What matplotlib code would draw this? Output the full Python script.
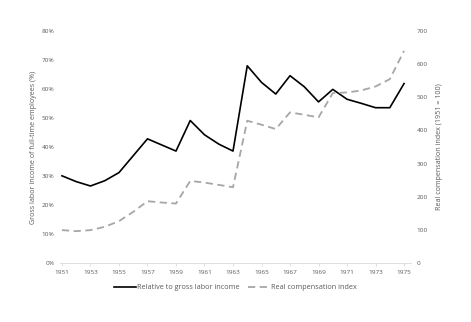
import matplotlib
matplotlib.use("Agg")
import matplotlib.pyplot as plt
from matplotlib.ticker import FuncFormatter

years = list(range(1951, 1976))
relative_pct = [30.1, 28.1, 26.6, 28.4, 31.2, 37.0, 42.8, 40.7, 38.6, 49.1, 44.2, 41.0, 38.6,
                67.9, 62.2, 58.2, 64.5, 60.7, 55.5, 59.8, 56.4, 55.0, 53.5, 53.5, 61.8]
real_index = [100, 97, 100, 110, 127, 155, 187, 183, 180, 248, 243, 236, 229,
              429, 417, 404, 454, 447, 439, 512, 514, 520, 532, 554, 639]
xtick_years = list(range(1951, 1976, 2))
left_ticks = list(range(0, 81, 10))
right_ticks = list(range(0, 701, 100))

plt.rcParams['font.family'] = ['Open Sans', 'DejaVu Sans']
txt = '#595959'
fs = 4.6

fig = plt.figure(figsize=(4.71, 3.22), dpi=100)
ax = fig.add_axes([0.127, 0.182, 0.746, 0.723])
ax2 = ax.twinx()

l1, = ax.plot(years, relative_pct, color='black', lw=1.2, label='Relative to gross labor income')
l2, = ax2.plot(years, real_index, color='#a6a6a6', lw=1.3, dashes=(4, 2.5), label='Real compensation index')

ax.set_xlim(1950.85, 1975.5)
ax.set_ylim(0, 80)
ax2.set_ylim(0, 700)
ax.set_xticks(xtick_years)
ax.set_yticks(left_ticks)
ax2.set_yticks(right_ticks)
ax.yaxis.set_major_formatter(FuncFormatter(lambda v, p: f"{int(v)}%"))

for a in (ax, ax2):
    for s in ('top', 'left', 'right'):
        a.spines[s].set_visible(False)
    a.spines['bottom'].set_color('#d9d9d9')
    a.spines['bottom'].set_linewidth(0.6)
    a.tick_params(axis='y', length=0, labelsize=fs, labelcolor=txt, pad=4)
ax.tick_params(axis='x', length=2.5, width=0.6, color='#d9d9d9', labelsize=fs, labelcolor=txt, pad=2)
ax2.spines['bottom'].set_visible(False)

ax.set_ylabel('Gross labor income of full-time employees (%)', fontsize=5.1, color=txt, labelpad=3)
ax2.set_ylabel('Real compensation index (1951 = 100)', fontsize=5.1, color=txt, labelpad=6)

fig.legend(handles=[l1, l2], loc='center', bbox_to_anchor=(0.5, 0.107), ncol=2, frameon=False,
           fontsize=fs + 0.6, labelcolor=txt, handlelength=3.0, handletextpad=0.2, columnspacing=1.2)

fig.savefig('out.png', dpi=100)
